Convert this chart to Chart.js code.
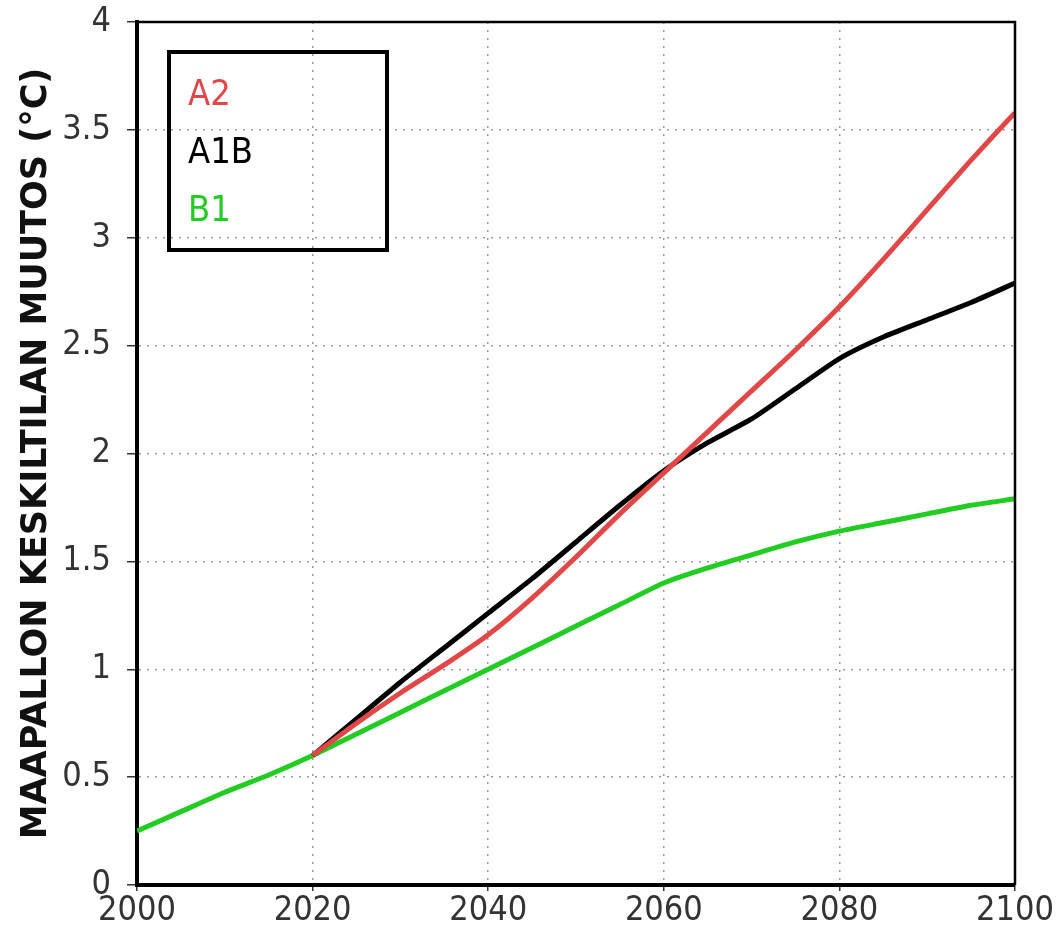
<!DOCTYPE html>
<html>
<head>
<meta charset="utf-8">
<script src="https://cdn.jsdelivr.net/npm/chart.js@4/dist/chart.umd.min.js"></script>
<style>
  html, body { margin: 0; padding: 0; background: #fff; }
  #wrap { width: 1061px; height: 935px; }
</style>
</head>
<body>
<div id="wrap"><canvas id="myChart" width="1061" height="935"></canvas></div>
<script>
// years along the x axis
var years = [2000, 2005, 2010, 2015, 2020, 2025, 2030, 2035, 2040, 2045, 2050,
             2055, 2060, 2065, 2070, 2075, 2080, 2085, 2090, 2095, 2100];
// scenario series, values (null = not drawn)
var a2  = [null, null, null, null, 0.60, 0.75, 0.89, 1.02, 1.16, 1.33, 1.52,
           1.72, 1.91, 2.10, 2.29, 2.48, 2.68, 2.90, 3.13, 3.36, 3.58];
var a1b = [null, null, null, null, 0.60, 0.77, 0.94, 1.10, 1.26, 1.42, 1.59,
           1.76, 1.92, 2.05, 2.16, 2.30, 2.44, 2.54, 2.62, 2.70, 2.79];
var b1  = [0.25, 0.34, 0.43, 0.51, 0.60, 0.70, 0.80, 0.90, 1.00, 1.10, 1.20,
           1.30, 1.40, 1.47, 1.53, 1.59, 1.64, 1.68, 1.72, 1.76, 1.79];
var seriesNames = ['A2', 'A1B', 'B1'];
var yTitle = 'MAAPALLON KESKILTILAN MUUTOS (°C)';

function points(vals) {
  return years.map(function(y, i) { return { x: y, y: vals[i] }; });
}

var FONT = '"DejaVu Sans Condensed", "Liberation Sans Narrow", sans-serif';

// box legend drawn inside the plot, plus the thin frame on top and right
var boxLegend = {
  id: 'boxLegend',
  afterDraw: function(chart) {
    var c = chart.ctx, a = chart.chartArea;
    c.save();
    c.strokeStyle = '#000';
    c.lineWidth = 2.5;
    c.beginPath();
    c.moveTo(a.left, a.top);
    c.lineTo(a.right, a.top);
    c.lineTo(a.right, a.bottom);
    c.stroke();

    var x = a.left + 32, y = a.top + 30, w = 218, h = 198;
    c.lineWidth = 4;
    c.strokeRect(x, y, w, h);
    c.font = '36px ' + FONT;
    c.textBaseline = 'middle';
    chart.data.datasets.forEach(function(ds, i) {
      c.fillStyle = ds.borderColor;
      c.fillText(ds.label, x + 19, y + 44 + i * 58);
    });
    c.restore();
  }
};

var ctx = document.getElementById('myChart').getContext('2d');
var myChart = new Chart(ctx, {
  type: 'line',
  data: {
    datasets: [
      { label: seriesNames[0], data: points(a2),  borderColor: '#e04848', borderWidth: 5, pointRadius: 0, fill: false, tension: 0.2 },
      { label: seriesNames[1], data: points(a1b), borderColor: '#000000', borderWidth: 5, pointRadius: 0, fill: false, tension: 0.2 },
      { label: seriesNames[2], data: points(b1),  borderColor: '#22cc22', borderWidth: 5, pointRadius: 0, fill: false, tension: 0.2 }
    ]
  },
  options: {
    responsive: false,
    animation: false,
    layout: { padding: { left: 0, top: 22, right: 46, bottom: 0 } },
    plugins: {
      legend: { display: false },
      tooltip: { enabled: false }
    },
    scales: {
      x: {
        type: 'linear',
        min: 2000, max: 2100,
        afterFit: function(s) { s.height = 50; s.paddingLeft = 0; s.paddingRight = 0; },
        ticks: { stepSize: 20, color: '#333', font: { family: FONT, size: 34 }, padding: 0, maxRotation: 0,
                 callback: function(v) { return String(v); } },
        grid: { color: '#999', lineWidth: 1.5, tickLength: 6, tickColor: '#333', tickBorderDash: [] },
        border: { display: true, color: '#000', width: 4, dash: [2, 6] }
      },
      y: {
        min: 0, max: 4,
        afterFit: function(s) { s.width = 137; s.paddingTop = 0; s.paddingBottom = 0; },
        ticks: { stepSize: 0.5, color: '#333', font: { family: FONT, size: 34 }, padding: 16,
                 callback: function(v) { return String(v); } },
        grid: { color: '#999', lineWidth: 1.5, tickLength: 10, tickColor: '#333', tickBorderDash: [] },
        border: { display: true, color: '#000', width: 4, dash: [2, 6] },
        title: { display: true, text: yTitle, color: '#111', padding: { top: 16, bottom: 0 },
                 font: { family: '"DejaVu Sans", sans-serif', size: 35, weight: 'bold' } }
      }
    }
  },
  plugins: [boxLegend]
});
</script>
</body>
</html>
